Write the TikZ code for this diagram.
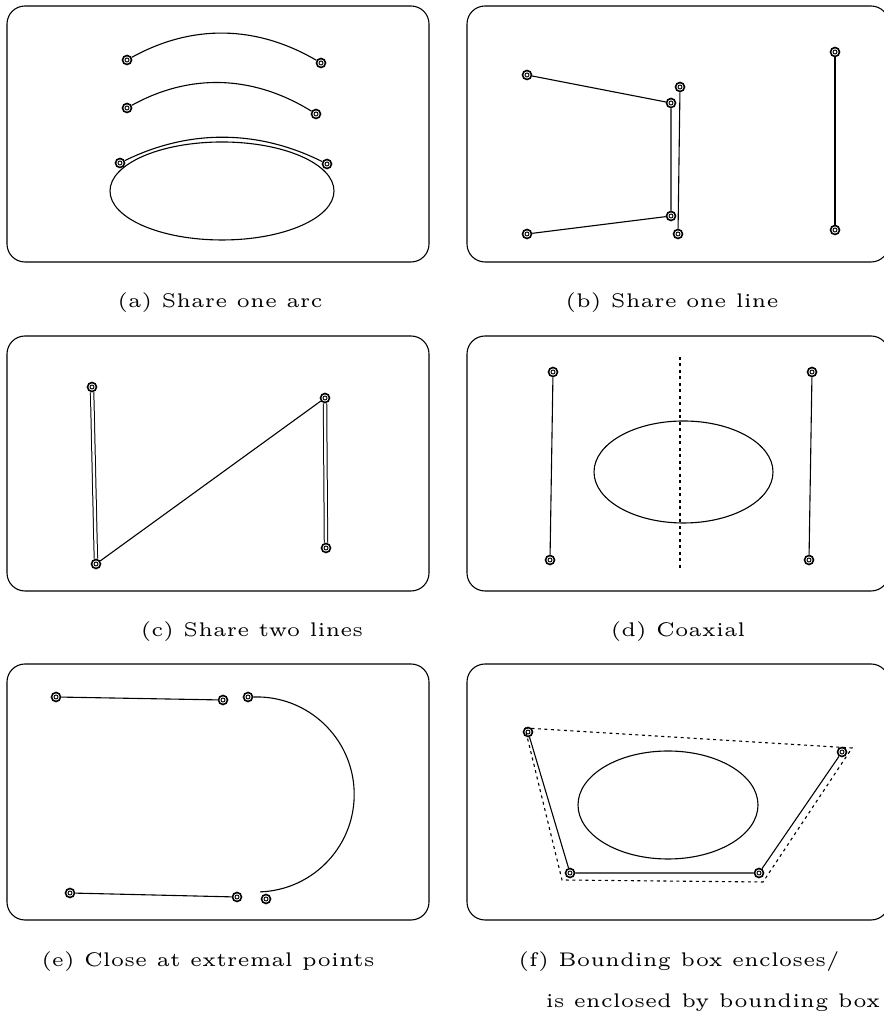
\documentclass[tikz,border=0pt]{standalone}
\usepackage{graphicx}
\usepackage{tikz}
\newcommand{\subcap}[1]{\scalebox{3.95}{\fontsize{5}{6}\selectfont #1}}

\begin{document}
\begin{tikzpicture}[x=1pt, y=1pt, line width=1.1pt,
  panel/.style={draw, line width=1.1pt, rounded corners=18pt},
  endpt/.style={circle, draw, line width=1.6pt, minimum size=9pt, inner sep=0pt,
    path picture={\draw[line width=0.9pt] (path picture bounding box.center) circle (2pt);}},
  subtitle/.style={inner sep=0pt},
  dbl/.style={double, double distance=2.4pt, line width=1pt},
  bbox/.style={dash pattern=on 3pt off 3.5pt}]
\useasboundingbox (0,0) rectangle (883,1024);
% panel frames
\draw[panel] (7,762) rectangle (429,1018);
\draw[panel] (467,762) rectangle (889,1018);
\draw[panel] (7,433) rectangle (429,688);
\draw[panel] (467,433) rectangle (889,688);
\draw[panel] (7,104) rectangle (429,360);
\draw[panel] (467,104) rectangle (889,360);
% (a) share one arc
\node[endpt] (a1) at (127,964) {}; \node[endpt] (a2) at (321,961) {};
\node[endpt] (a3) at (127,916) {}; \node[endpt] (a4) at (316,910) {};
\node[endpt] (a5) at (120,861) {}; \node[endpt] (a6) at (327,860) {};
\draw (a1) .. controls (192,1000) and (256,999) .. (a2);
\draw (a3) .. controls (190,951) and (253,949) .. (a4);
\draw (a5) .. controls (189,895) and (258,894.5) .. (a6);
\draw (222,833) ellipse [x radius=112, y radius=49];
\node[subtitle] (capa) at (220,721) {\subcap{(a) Share one arc}};
% (b) share one line
\node[endpt] (b1) at (527,949) {}; \node[endpt] (b2) at (671,921) {};
\node[endpt] (b3) at (671,808) {}; \node[endpt] (b4) at (527,790) {};
\node[endpt] (b5) at (680,937) {}; \node[endpt] (b6) at (678,790) {};
\node[endpt] (b7) at (835,972) {}; \node[endpt] (b8) at (835,794) {};
\draw (b1) -- (b2) -- (b3) -- (b4);
\draw (b5) -- (b6);
\draw (b7) -- (b8);
\node[subtitle] (capb) at (672,721) {\subcap{(b) Share one line}};
% (c) share two lines
\node[endpt] (c1) at (92,637) {}; \node[endpt] (c2) at (96,460) {};
\node[endpt] (c3) at (325,626) {}; \node[endpt] (c4) at (326,476) {};
\draw[dbl] (c1) -- (c2);
\draw[dbl] (c3) -- (c4);
\draw (c2) -- (c3);
\node[subtitle] (capc) at (252,392) {\subcap{(c) Share two lines}};
% (d) coaxial
\node[endpt] (d1) at (553,652) {}; \node[endpt] (d2) at (550,464) {};
\node[endpt] (d3) at (812,652) {}; \node[endpt] (d4) at (809,464) {};
\draw (d1) -- (d2);
\draw (d3) -- (d4);
\draw (683.5,552) ellipse [x radius=89.5, y radius=51];
\coordinate (axtop) at (680,667); \coordinate (axbot) at (680,456);
\draw[bbox] (axtop) -- (axbot);
\node[subtitle] (capd) at (678,392) {\subcap{(d) Coaxial}};
% (e) close at extremal points
\node[endpt] (e1) at (56,327) {}; \node[endpt] (e2) at (223,324) {};
\node[endpt] (e3) at (248,327) {};
\node[endpt] (e4) at (70,131) {}; \node[endpt] (e5) at (237,127) {};
\node[endpt] (e6) at (266,125) {};
\draw (e1) -- (e2);
\draw (e4) -- (e5);
\draw (e3.east) arc[start angle=92, end angle=-88, radius=97.5];
\node[subtitle] (cape) at (208,62) {\subcap{(e) Close at extremal points}};
% (f) bounding box
\node[endpt] (f1) at (528,292) {}; \node[endpt] (f2) at (842,272) {};
\node[endpt] (f3) at (570,151) {}; \node[endpt] (f4) at (759,151) {};
\draw (f1) -- (f3) -- (f4) -- (f2);
\draw (668,219) ellipse [x radius=90, y radius=54];
\coordinate (q1) at (525,296); \coordinate (q2) at (852,276);
\coordinate (q3) at (763,142); \coordinate (q4) at (562,144);
\draw[bbox] (q1) -- (q2) -- (q3) -- (q4) -- cycle;
\node[subtitle] (capf) at (679,62) {\subcap{(f) Bounding box encloses/}};
\node[subtitle] (capf2) at (713,21) {\subcap{is enclosed by bounding box}};
\end{tikzpicture}
\end{document}
